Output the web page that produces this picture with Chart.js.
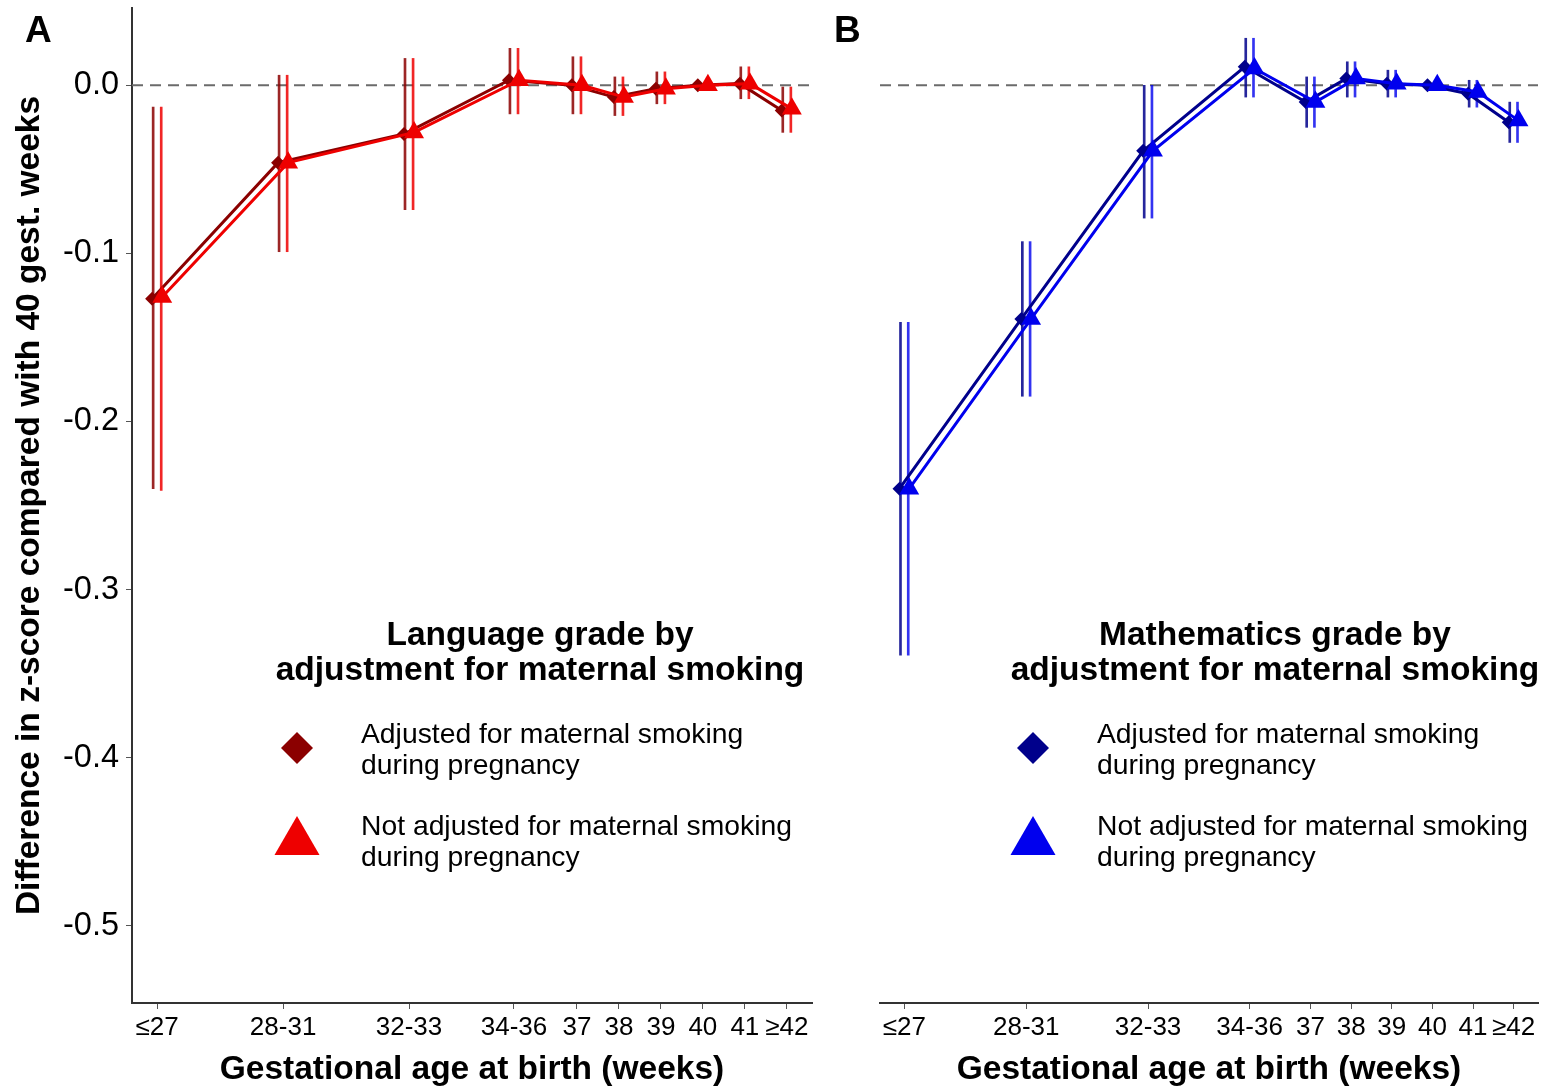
<!DOCTYPE html>
<html lang="en">
<head>
    <meta charset="UTF-8">
    <title>Gestational age and school grades</title>
    <script src="https://cdn.jsdelivr.net/npm/chart.js"></script>
    <style>
        body { margin: 0; background: #fff; }
        #wrap { position: relative; width: 1544px; height: 1087px; }
        canvas { position: absolute; top: 0; }
        .tag {
            position: absolute;
            font: bold 37px "Liberation Sans", Arial, sans-serif;
            color: #000;
            line-height: 1;
        }
    </style>
</head>
<body>
<div id="wrap">
    <canvas id="langChart" width="830" height="1087" style="left:0"></canvas>
    <canvas id="mathChart" width="714" height="1087" style="left:830px"></canvas>
    <div class="tag" style="left:25px;top:11px">A</div>
    <div class="tag" style="left:834px;top:11px">B</div>
</div>
<script>
    // gestational age groups, placed on a week axis
    const xLabels = ['≤27', '28-31', '32-33', '34-36', '37', '38', '39', '40', '41', '≥42'];
    const xPos = [27, 30, 33, 35.5, 37, 38, 39, 40, 41, 42];
    const yTicks = [0, -0.1, -0.2, -0.3, -0.4, -0.5];

    // Language grade
    const langAdj = [-0.127, -0.046, -0.029, 0.003, 0.000, -0.007, -0.002, 0, 0.001, -0.015];
    const langAdjLo = [-0.240, -0.099, -0.074, -0.017, -0.017, -0.018, -0.011, null, -0.008, -0.028];
    const langAdjHi = [-0.013, 0.006, 0.016, 0.022, 0.017, 0.005, 0.008, null, 0.011, -0.001];
    const langUnadj = [-0.126, -0.046, -0.028, 0.003, 0.000, -0.007, -0.002, 0, 0.001, -0.014];
    const langUnadjLo = [-0.241, -0.099, -0.074, -0.017, -0.017, -0.018, -0.011, null, -0.008, -0.028];
    const langUnadjHi = [-0.013, 0.006, 0.016, 0.022, 0.017, 0.005, 0.008, null, 0.011, -0.001];

    // Mathematics grade
    const mathAdj = [-0.240, -0.139, -0.039, 0.011, -0.010, 0.004, 0.001, 0, -0.005, -0.022];
    const mathAdjLo = [-0.339, -0.185, -0.079, -0.007, -0.025, -0.007, -0.007, null, -0.013, -0.034];
    const mathAdjHi = [-0.141, -0.093, 0.000, 0.028, 0.005, 0.014, 0.009, null, 0.003, -0.010];
    const mathUnadj = [-0.240, -0.139, -0.039, 0.010, -0.010, 0.004, 0.001, 0, -0.004, -0.021];
    const mathUnadjLo = [-0.339, -0.185, -0.079, -0.007, -0.025, -0.007, -0.007, null, -0.013, -0.034];
    const mathUnadjHi = [-0.141, -0.093, 0.000, 0.028, 0.005, 0.014, 0.009, null, 0.003, -0.010];

    const dodge = 0.12;
    const xMin = 26.4, xMax = 42.6;
    const yMin = -0.546, yMax = 0.046;
    const FONT = '"Liberation Sans", Arial, sans-serif';
    Chart.defaults.font.family = FONT;
    Chart.defaults.color = '#000';

    function pts(vals, shift) {
        return vals.map((v, i) => ({ x: xPos[i] + shift, y: v }));
    }
    function bars(lo, hi, shift) {
        return lo.map((v, i) => ({ x: xPos[i] + shift, y: v === null ? null : [v, hi[i]] }));
    }

    function drawDiamond(ctx, x, y, r) {
        ctx.beginPath();
        ctx.moveTo(x, y - r); ctx.lineTo(x + r, y); ctx.lineTo(x, y + r); ctx.lineTo(x - r, y);
        ctx.closePath(); ctx.fill();
    }
    function drawTriangle(ctx, x, y, r) {
        ctx.beginPath();
        ctx.moveTo(x, y - r);
        ctx.lineTo(x + r * Math.sin(2 * Math.PI / 3), y + r / 2);
        ctx.lineTo(x - r * Math.sin(2 * Math.PI / 3), y + r / 2);
        ctx.closePath(); ctx.fill();
    }

    // legend box drawn inside the panel
    const panelLegend = {
        id: 'panelLegend',
        afterDraw(chart, args, o) {
            const ctx = chart.ctx;
            ctx.save();
            ctx.fillStyle = '#000';
            ctx.textBaseline = 'middle';
            ctx.font = 'bold 33.5px ' + FONT;
            ctx.textAlign = 'center';
            ctx.fillText(o.title[0], o.titleX, 636);
            ctx.fillText(o.title[1], o.titleX, 671);
            ctx.font = '28.3px ' + FONT;
            ctx.textAlign = 'left';
            ctx.fillText('Adjusted for maternal smoking', o.textX, 735);
            ctx.fillText('during pregnancy', o.textX, 766);
            ctx.fillText('Not adjusted for maternal smoking', o.textX, 827);
            ctx.fillText('during pregnancy', o.textX, 858);
            ctx.fillStyle = o.dark;
            drawDiamond(ctx, o.markerX, 748, 16);
            ctx.fillStyle = o.light;
            drawTriangle(ctx, o.markerX, 842, 26);
            ctx.restore();
        }
    };

    function noPad(s) {
        s.paddingTop = 0; s.paddingBottom = 0; s.paddingLeft = 0; s.paddingRight = 0;
    }

    function makeChart(id, adj, adjLo, adjHi, unadj, unLo, unHi, c, showY, pad, legend) {
        const ctx = document.getElementById(id).getContext('2d');
        return new Chart(ctx, {
            type: 'line',
            data: {
                datasets: [
                    {
                        data: [{ x: xMin, y: 0 }, { x: xMax, y: 0 }],
                        borderColor: '#6b6b6b', borderWidth: 2, borderDash: [11, 7],
                        pointRadius: 0, order: 10
                    },
                    {
                        type: 'bar', data: bars(adjLo, adjHi, -dodge),
                        backgroundColor: c.darkBar, barThickness: 2, order: 5
                    },
                    {
                        type: 'bar', data: bars(unLo, unHi, dodge),
                        backgroundColor: c.lightBar, barThickness: 2, order: 4
                    },
                    {
                        data: pts(adj, -dodge), borderColor: c.dark, backgroundColor: c.dark,
                        borderWidth: 3, pointStyle: 'rectRot', pointRadius: 7, pointBorderWidth: 0,
                        tension: 0, order: 2
                    },
                    {
                        data: pts(unadj, dodge), borderColor: c.light, backgroundColor: c.light,
                        borderWidth: 3, pointStyle: 'triangle', pointRadius: 11.5, pointBorderWidth: 0,
                        tension: 0, order: 1
                    }
                ]
            },
            options: {
                responsive: false,
                animation: false,
                events: [],
                layout: { padding: pad, autoPadding: false },
                plugins: {
                    legend: { display: false },
                    tooltip: { enabled: false },
                    panelLegend: legend
                },
                scales: {
                    x: {
                        type: 'linear', min: xMin, max: xMax, offset: false,
                        afterBuildTicks: s => { s.ticks = xPos.map(v => ({ value: v })); },
                        afterFit: s => { s.height = 84; noPad(s); },
                        ticks: {
                            callback: (v, i) => xLabels[i],
                            font: { size: 26 }, color: '#000', padding: 3,
                            maxRotation: 0, autoSkip: false
                        },
                        grid: { offset: false, drawOnChartArea: false, drawTicks: true, tickLength: 6, color: '#555' },
                        border: { color: '#333', width: 2 },
                        title: {
                            display: true, text: 'Gestational age at birth (weeks)',
                            font: { size: 33.5, weight: 'bold', lineHeight: 1 }, color: '#000',
                            padding: { top: 0, bottom: 0 }
                        }
                    },
                    y: {
                        type: 'linear', min: yMin, max: yMax, display: showY,
                        afterBuildTicks: s => { s.ticks = yTicks.map(v => ({ value: v })); },
                        afterFit: s => { if (showY) s.width = 132; noPad(s); },
                        ticks: {
                            callback: v => v.toFixed(1),
                            font: { size: 32.5 }, color: '#000', padding: 7
                        },
                        grid: { offset: false, drawOnChartArea: false, drawTicks: true, tickLength: 6, color: '#555' },
                        border: { color: '#333', width: 2 },
                        title: {
                            display: showY, text: 'Difference in z-score compared with 40 gest. weeks',
                            font: { size: 33.5, weight: 'bold' }, color: '#000',
                            padding: { top: 10, bottom: 0 }
                        }
                    }
                }
            },
            plugins: [panelLegend]
        });
    }

    makeChart('langChart', langAdj, langAdjLo, langAdjHi, langUnadj, langUnadjLo, langUnadjHi,
        { dark: '#8b0000', light: '#ee0000', darkBar: 'rgba(139,0,0,0.85)', lightBar: 'rgba(238,0,0,0.85)' },
        true, { left: 0, top: 8, right: 18, bottom: 0 },
        { title: ['Language grade by', 'adjustment for maternal smoking'], titleX: 540, textX: 361, markerX: 297,
          dark: '#8b0000', light: '#ee0000' });

    makeChart('mathChart', mathAdj, mathAdjLo, mathAdjHi, mathUnadj, mathUnadjLo, mathUnadjHi,
        { dark: '#00008b', light: '#0000ee', darkBar: 'rgba(0,0,139,0.85)', lightBar: 'rgba(0,0,238,0.8)' },
        false, { left: 50, top: 8, right: 6, bottom: 0 },
        { title: ['Mathematics grade by', 'adjustment for maternal smoking'], titleX: 445, textX: 267, markerX: 203,
          dark: '#00008b', light: '#0000ee' });
</script>
</body>
</html>
